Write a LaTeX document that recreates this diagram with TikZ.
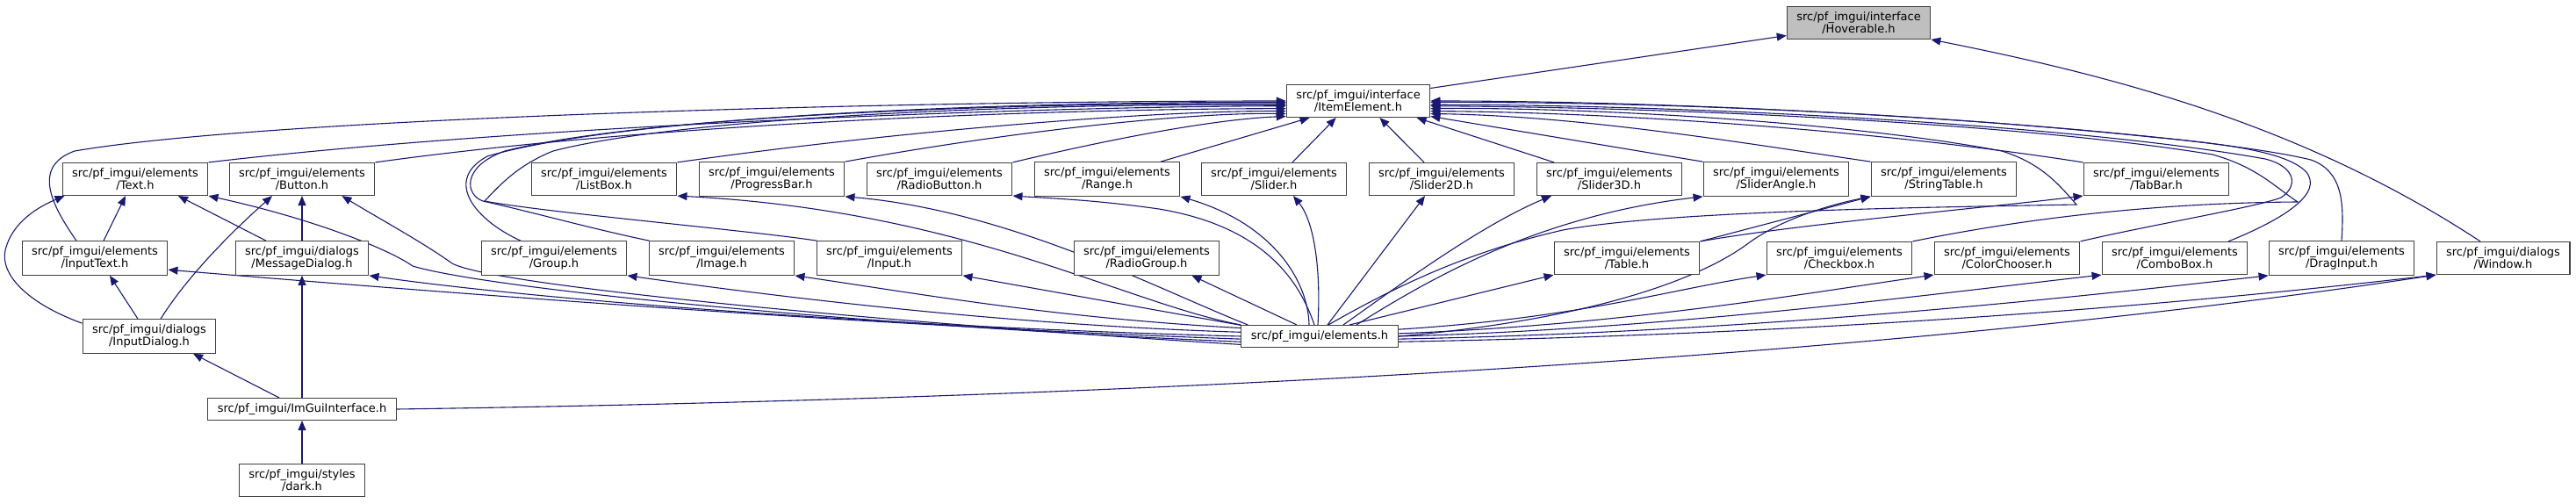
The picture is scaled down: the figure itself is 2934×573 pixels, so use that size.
\documentclass[tikz,border=0pt]{standalone}
\usepackage{fontspec}
\setmainfont{DejaVu Sans}
\usetikzlibrary{arrows.meta,backgrounds}
\definecolor{edgeblue}{HTML}{191970}
\begin{document}
\begin{tikzpicture}[x=1pt, y=-1pt,
  file/.style={draw=black!75, line width=1.1pt, fill=white, align=center,
    inner xsep=11pt, inner ysep=6pt, font=\fontsize{13}{14}\selectfont},
  root/.style={file, fill=black!25},
  dep/.style={draw=edgeblue, line width=1.1pt, -{Triangle[length=11pt,width=9pt]}}]
  \useasboundingbox (0,0) rectangle (2934,573);
  \node[root] (hov) at (2117,26) {src/pf\_imgui/interface\\/Hoverable.h};
  \node[file] (item) at (1547,115) {src/pf\_imgui/interface\\/ItemElement.h};
  \node[file] (texth) at (154,204) {src/pf\_imgui/elements\\/Text.h};
  \node[file] (buttonh) at (344,204) {src/pf\_imgui/elements\\/Button.h};
  \node[file] (listboxh) at (688,204) {src/pf\_imgui/elements\\/ListBox.h};
  \node[file] (progressh) at (879,204) {src/pf\_imgui/elements\\/ProgressBar.h};
  \node[file] (radiobtnh) at (1070,204) {src/pf\_imgui/elements\\/RadioButton.h};
  \node[file] (rangeh) at (1261,204) {src/pf\_imgui/elements\\/Range.h};
  \node[file] (sliderh) at (1451,204) {src/pf\_imgui/elements\\/Slider.h};
  \node[file] (slidertwoh) at (1642,204) {src/pf\_imgui/elements\\/Slider2D.h};
  \node[file] (sliderthreeh) at (1833,204) {src/pf\_imgui/elements\\/Slider3D.h};
  \node[file] (sliderangleh) at (2023,204) {src/pf\_imgui/elements\\/SliderAngle.h};
  \node[file] (strtableh) at (2214,204) {src/pf\_imgui/elements\\/StringTable.h};
  \node[file] (tabbarh) at (2456,204) {src/pf\_imgui/elements\\/TabBar.h};
  \node[file] (inputtexth) at (108,294) {src/pf\_imgui/elements\\/InputText.h};
  \node[file] (msgdlgh) at (344,294) {src/pf\_imgui/dialogs\\/MessageDialog.h};
  \node[file] (grouph) at (631,294) {src/pf\_imgui/elements\\/Group.h};
  \node[file] (imageh) at (822,294) {src/pf\_imgui/elements\\/Image.h};
  \node[file] (inputh) at (1013,294) {src/pf\_imgui/elements\\/Input.h};
  \node[file] (radiogrph) at (1306,294) {src/pf\_imgui/elements\\/RadioGroup.h};
  \node[file] (tableh) at (1853,294) {src/pf\_imgui/elements\\/Table.h};
  \node[file] (checkboxh) at (2095,294) {src/pf\_imgui/elements\\/Checkbox.h};
  \node[file] (colorchh) at (2286,294) {src/pf\_imgui/elements\\/ColorChooser.h};
  \node[file] (comboh) at (2477,294) {src/pf\_imgui/elements\\/ComboBox.h};
  \node[file] (dragh) at (2667,294) {src/pf\_imgui/elements\\/DragInput.h};
  \node[file] (windowh) at (2851,294) {src/pf\_imgui/dialogs\\/Window.h};
  \node[file] (elementsh) at (1503,383) {src/pf\_imgui/elements.h};
  \node[file] (inputdlgh) at (170,383) {src/pf\_imgui/dialogs\\/InputDialog.h};
  \node[file] (imguih) at (344,466) {src/pf\_imgui/ImGuiInterface.h};
  \node[file] (darkh) at (344,547) {src/pf\_imgui/styles\\/dark.h};
  \begin{scope}[on background layer]
  \draw[dep] (item.10) -- (hov.190);
  \draw[dep] ([xshift=-26pt]windowh.north) .. controls (2620,140) and (2400,85) .. (hov.-13);
  \draw[dep] (texth.north east) .. controls (600,142) and (1200,121) .. (item.184);
  \draw[dep] (buttonh.north east) .. controls (750,140) and (1200,124) .. (item.186);
  \draw[dep] (listboxh.north east) .. controls (1000,152) and (1300,126) .. (item.188);
  \draw[dep] (progressh.north east) .. controls (1150,150) and (1350,128) .. (item.190);
  \draw[dep] (radiobtnh.north east) .. controls (1300,150) and (1400,135) .. (item.192);
  \draw[dep] ([xshift=61pt]rangeh.north) -- (item.199);
  \draw[dep] ([xshift=21pt]sliderh.north) -- (item.217);
  \draw[dep] ([xshift=-20pt]slidertwoh.north) -- (item.-38);
  \draw[dep] ([xshift=-63pt]sliderthreeh.north) -- (item.-16);
  \draw[dep] (sliderangleh.north west) -- (item.-12);
  \draw[dep] (strtableh.north west) .. controls (1980,162) and (1800,132) .. (item.-10);
  \draw[dep] (tabbarh.north west) .. controls (2150,150) and (1850,128) .. (item.-8);
  \draw[dep] ([xshift=-21pt]inputtexth.north) .. controls (60,235) and (35,190) .. (85,172) .. controls (300,135) and (1000,115) .. (item.180);
  \draw[dep] ([xshift=-38pt]grouph.north) .. controls (540,250) and (505,205) .. (555,178) .. controls (700,135) and (1100,116) .. (item.181);
  \draw[dep] ([xshift=1pt]imageh.north west) .. controls (680,262) and (600,240) .. (550,229) .. controls (530,222) and (525,190) .. (575,172) .. controls (720,135) and (1100,117) .. (item.182);
  \draw[dep] ([xshift=1pt]inputh.north west) .. controls (850,262) and (620,242) .. (552,229) .. controls (570,210) and (590,188) .. (630,172) .. controls (760,138) and (1100,118) .. (item.183);
  \draw[dep] (checkboxh.north east) .. controls (2300,250) and (2450,231) .. (2617,230) .. controls (2590,212) and (2570,190) .. (2520,176) .. controls (2300,140) and (1900,122) .. (item.-4);
  \draw[dep] (colorchh.north east) .. controls (2450,256) and (2570,236) .. (2598,225) .. controls (2618,212) and (2615,190) .. (2580,181) .. controls (2350,140) and (1900,119) .. (item.-3);
  \draw[dep] ([xshift=61pt]comboh.north) .. controls (2600,250) and (2648,220) .. (2626,195) .. controls (2605,175) and (2550,165) .. (2450,156) .. controls (2200,130) and (1900,116) .. (item.-1.5);
  \draw[dep] (dragh.north) .. controls (2670,230) and (2668,195) .. (2632,182) .. controls (2500,150) and (2000,115) .. (item.0);
  \draw[dep] ([xshift=10pt]elementsh.north) .. controls (1600,320) and (1680,285) .. (1780,262) .. controls (1900,240) and (2200,236) .. (2365,233) .. controls (2345,210) and (2325,186) .. (2280,172) .. controls (2100,138) and (1800,122) .. (item.-6);
  \draw[dep] (elementsh.172) -- (inputh.south east);
  \draw[dep] (elementsh.174) .. controls (1200,362) and (1050,335) .. (imageh.south east);
  \draw[dep] (elementsh.177) .. controls (1150,370) and (900,340) .. (grouph.south east);
  \draw[dep] (elementsh.180) .. controls (1000,372) and (600,340) .. (msgdlgh.south east);
  \draw[dep] (elementsh.182) .. controls (1000,372) and (500,333) .. (inputtexth.-9);
  \draw[dep] (elementsh.184) .. controls (1000,372) and (560,330) .. (470,303) .. controls (445,285) and (360,250) .. (texth.south east);
  \draw[dep] (elementsh.186) .. controls (1000,367) and (560,325) .. (515,300) .. controls (480,275) and (430,248) .. ([xshift=-38pt]buttonh.south east);
  \draw[dep] (elementsh.north west) .. controls (1280,345) and (1100,240) .. (listboxh.south east);
  \draw[dep] ([xshift=8pt]elementsh.north west) .. controls (1320,330) and (1150,240) .. (progressh.south east);
  \draw[dep] ([xshift=-26pt]elementsh.north) -- ([xshift=-32pt]radiogrph.south east);
  \draw[dep] ([xshift=-6pt]elementsh.north) .. controls (1480,320) and (1440,258) .. (1320,238) .. controls (1250,228) and (1200,226) .. (radiobtnh.south east);
  \draw[dep] ([xshift=-12pt]elementsh.north) .. controls (1490,320) and (1450,255) .. (rangeh.south east);
  \draw[dep] ([xshift=-2pt]elementsh.north) .. controls (1505,300) and (1495,250) .. ([xshift=22pt]sliderh.south);
  \draw[dep] ([xshift=9pt]elementsh.north) -- ([xshift=-19pt]slidertwoh.south);
  \draw[dep] ([xshift=27pt]elementsh.north) .. controls (1600,320) and (1690,255) .. ([xshift=-66pt]sliderthreeh.south);
  \draw[dep] ([xshift=42pt]elementsh.north) .. controls (1640,310) and (1760,245) .. (sliderangleh.south west);
  \draw[dep] ([xshift=34pt]elementsh.north) -- (tableh.south west);
  \draw[dep] (elementsh.east) .. controls (1800,365) and (1930,322) .. (1990,278) .. controls (2030,248) and (2090,232) .. (strtableh.south west);
  \draw[dep] (elementsh.5) .. controls (1800,362) and (1900,330) .. (checkboxh.south west);
  \draw[dep] (elementsh.2) .. controls (1850,370) and (2050,335) .. (colorchh.south west);
  \draw[dep] (elementsh.0) .. controls (1900,375) and (2200,335) .. (comboh.south west);
  \draw[dep] (elementsh.-2) .. controls (2000,378) and (2350,340) .. (dragh.south west);
  \draw[dep] (elementsh.-4) .. controls (2100,380) and (2500,345) .. (windowh.south west);
  \draw[dep] (tableh.north east) -- (strtableh.south west);
  \draw[dep] (tableh.north east) .. controls (2050,255) and (2250,238) .. (tabbarh.south west);
  \draw[dep] ([xshift=10pt]inputtexth.north) -- ([xshift=-11pt]texth.south);
  \draw[dep] ([xshift=-41pt]msgdlgh.north) -- ([xshift=49pt]texth.south);
  \draw[dep] (msgdlgh) -- (buttonh);
  \draw[dep] ([xshift=-13pt]inputdlgh.north) -- ([xshift=17pt]inputtexth.south);
  \draw[dep] ([yshift=-5pt]inputdlgh.north west) .. controls (30,345) and (0,312) .. (6,285) .. controls (14,252) and (45,235) .. ([xshift=3pt]texth.south west);
  \draw[dep] ([xshift=13pt]inputdlgh.north) .. controls (210,320) and (255,272) .. ([xshift=-34pt]buttonh.south);
  \draw[dep] ([xshift=-26pt]imguih.north) -- ([xshift=50pt]inputdlgh.south);
  \draw[dep] (imguih) -- (msgdlgh);
  \draw[dep] (imguih.east) .. controls (1400,452) and (2200,400) .. (windowh.south west);
  \draw[dep] (darkh) -- (imguih);
  \end{scope}
\end{tikzpicture}
\end{document}
